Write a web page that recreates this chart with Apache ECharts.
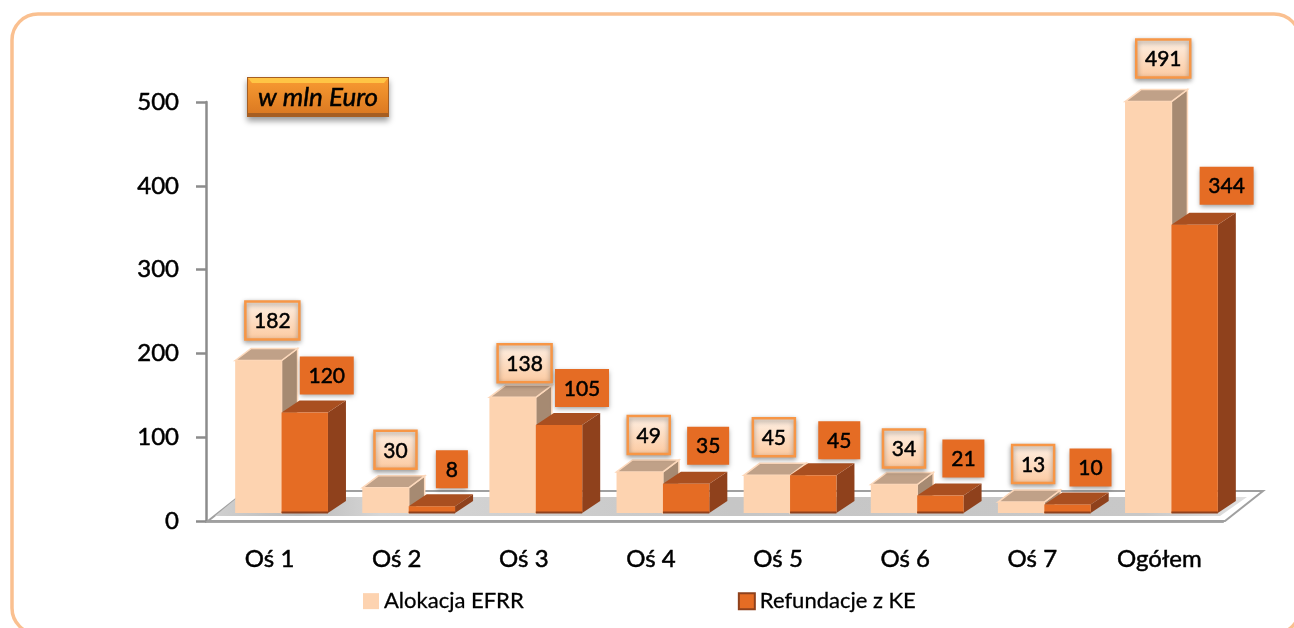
<!DOCTYPE html>
<html>
<head>
<meta charset="utf-8">
<title>Alokacja EFRR</title>
<script src="https://cdn.jsdelivr.net/npm/echarts@6/dist/echarts.min.js"></script>
<style>
  html, body { margin: 0; padding: 0; background: #fff; }
  #chart { width: 1294px; height: 628px; }
</style>
</head>
<body>
<div id="chart"></div>
<script>
// dane
const categories = ['Oś 1', 'Oś 2', 'Oś 3', 'Oś 4', 'Oś 5', 'Oś 6', 'Oś 7', 'Ogółem']
const alokacja = [182, 30, 138, 49, 45, 34, 13, 491]
const refundacje = [120, 8, 105, 35, 45, 21, 10, 344]
const yTicks = { min: 0, max: 500, interval: 100 }

// kolory
const FONT = 'Lato, "Open Sans", sans-serif'
const peach = { front: '#FDD3B0', side: '#A68A72', top: '#C0A188', edge: '#FDD9BC' }
const orange = { front: '#E56C24', side: '#8F411C', top: '#A94F20', edge: null }

// przesunięcie etykiet względem słupka
const peachLabelShift = [14, 10, 12, 9, 7, 10, 12, 15]
const orangeLabelShift = [22, 20, 23, 22, 26, 23, 23, 32]
const peachLabelLift = [40, 38, 34, 37, 38, 36, 38, 43]
const orangeLabelLift = [37, 37, 37, 38, 35, 37, 37, 39]

const chart = echarts.init(document.getElementById('chart'))

// słupek 3D: przód, bok, góra i etykieta nad nim
function renderBox(colors, side, labelShift, labelLift, labelFill) {
  return (params, api) => {
    const i = api.value(0)
    const value = api.value(1)
    const base = api.coord([i, 0])
    const top = api.coord([i, value])
    const band = api.size([1, 0])[0]
    const w = band * 0.365
    const x0 = base[0] + 12 + (side < 0 ? -w : 0)
    const x1 = x0 + w
    const y0 = base[1] - 8
    const y1 = top[1] - 8
    const dx = side < 0 ? 16 : 18
    const dy = 12
    const stroke = colors.edge ? { stroke: colors.edge, lineWidth: 1.5 } : {}
    const digits = String(value).length
    const lw = digits === 3 ? 54 : digits === 2 ? 42 : 32
    const lh = 38
    const lx = (x0 + x1) / 2 + labelShift[i] - lw / 2
    const ly = y1 - labelLift[i] - lh / 2
    const children = [
      { type: 'polygon', shape: { points: [[x1, y0], [x1 + dx, y0 - dy], [x1 + dx, y1 - dy], [x1, y1]] }, style: { fill: colors.side, ...stroke } },
      { type: 'polygon', shape: { points: [[x0, y1], [x0 + dx, y1 - dy], [x1 + dx, y1 - dy], [x1, y1]] }, style: { fill: colors.top, ...stroke } },
      { type: 'rect', shape: { x: x0, y: y1, width: w, height: y0 - y1 }, style: { fill: colors.front } }
    ]
    if (!colors.edge) {
      children.push({ type: 'rect', shape: { x: x0, y: y0 - 1.5, width: w, height: 2 }, style: { fill: colors.side } })
    }
    children.push({
      type: 'rect',
      shape: { x: lx, y: ly, width: lw, height: lh },
      style: {
        fill: labelFill,
        stroke: colors.edge ? '#F79646' : null,
        lineWidth: colors.edge ? 2.5 : 0,
        shadowBlur: 5,
        shadowOffsetY: 2,
        shadowColor: 'rgba(0,0,0,0.4)'
      }
    })
    children.push({
      type: 'text',
      style: {
        x: lx + lw / 2,
        y: ly + lh / 2 + 1,
        text: String(value),
        fill: '#000',
        stroke: '#000',
        lineWidth: 0.5,
        font: '21px ' + FONT,
        align: 'center',
        verticalAlign: 'middle'
      }
    })
    return { type: 'group', children }
  }
}

// podłoga wykresu
function renderFloor(params, api) {
  const a = api.coord([0, 0])
  const band = api.size([1, 0])[0]
  const left = a[0] - band / 2 + 2
  const right = left + band * 8
  const y = a[1]
  return {
    type: 'group',
    children: [
      {
        type: 'polygon',
        shape: { points: [[left, y], [right, y], [right + 38, y - 30], [left + 38, y - 30]] },
        style: { fill: '#fff', stroke: '#A0A0A0', lineWidth: 2 }
      },
      {
        type: 'polygon',
        shape: { points: [[left + 7, y - 5], [right - 5, y - 5], [right + 22, y - 24], [left + 30, y - 24]] },
        style: {
          fill: new echarts.graphic.LinearGradient(0, 0, 1, 0, [
            { offset: 0, color: '#D0D0D0' },
            { offset: 0.08, color: '#BABABA' },
            { offset: 0.16, color: '#D6D6D6' },
            { offset: 0.5, color: '#C6C6C6' },
            { offset: 0.9, color: '#C8C8C8' },
            { offset: 1, color: '#E0E0E0' }
          ])
        }
      }
    ]
  }
}

const peachLabelFill = new echarts.graphic.LinearGradient(0, 0, 0, 1, [
  { offset: 0, color: '#FEF1E6' },
  { offset: 1, color: '#FCC99F' }
])

chart.setOption({
  animation: false,
  backgroundColor: '#fff',
  grid: { left: 206, right: 71, top: 102, bottom: 107 },
  xAxis: {
    type: 'category',
    data: categories,
    axisLine: { lineStyle: { color: '#8C8C8C', width: 2.5 } },
    axisTick: { show: false },
    axisLabel: { color: '#000', fontFamily: FONT, fontSize: 24, textBorderColor: '#000', textBorderWidth: 0.5, margin: 26 }
  },
  yAxis: {
    type: 'value',
    min: yTicks.min,
    max: yTicks.max,
    interval: yTicks.interval,
    splitLine: { show: false },
    axisLine: { show: true, lineStyle: { color: '#8C8C8C', width: 2.5 } },
    axisTick: { show: true, length: 10, lineStyle: { color: '#8C8C8C', width: 2.5 } },
    axisLabel: { color: '#000', fontFamily: FONT, fontSize: 24, textBorderColor: '#000', textBorderWidth: 0.5, margin: 27, padding: [4, 0, 0, 0] }
  },
  legend: {
    left: 358,
    top: 585,
    itemWidth: 16,
    itemHeight: 16,
    itemGap: 214,
    icon: 'rect',
    data: ['Alokacja EFRR', 'Refundacje z KE'],
    textStyle: { color: '#000', fontFamily: FONT, fontSize: 22, textBorderColor: '#000', textBorderWidth: 0.3 }
  },
  series: [
    {
      type: 'custom',
      silent: true,
      z: 1,
      clip: false,
      data: [[0, 0]],
      renderItem: renderFloor
    },
    {
      name: 'Alokacja EFRR',
      type: 'custom',
      z: 2,
      clip: false,
      itemStyle: { color: peach.front },
      data: alokacja.map((v, i) => [i, v]),
      renderItem: renderBox(peach, -1, peachLabelShift, peachLabelLift, peachLabelFill)
    },
    {
      name: 'Refundacje z KE',
      type: 'custom',
      z: 3,
      clip: false,
      itemStyle: { color: orange.front, borderColor: orange.side, borderWidth: 2 },
      data: refundacje.map((v, i) => [i, v]),
      renderItem: renderBox(orange, 1, orangeLabelShift, orangeLabelLift, orange.front)
    }
  ],
  graphic: [
    // ramka wokół wykresu
    {
      type: 'rect',
      z: 0,
      shape: { x: 12, y: 14, width: 1288, height: 620, r: 26 },
      style: { fill: 'none', stroke: '#FAC090', lineWidth: 3.5 }
    },
    // plakietka "w mln Euro"
    {
      type: 'group',
      z: 10,
      left: 247,
      top: 77,
      children: [
        {
          type: 'rect',
          shape: { x: 0, y: 0, width: 142, height: 40 },
          style: { fill: '#A65E22', shadowBlur: 6, shadowOffsetY: 4, shadowColor: 'rgba(0,0,0,0.4)' }
        },
        {
          type: 'rect',
          shape: { x: 1, y: 1, width: 140, height: 35 },
          style: {
            fill: new echarts.graphic.LinearGradient(0, 0, 0, 1, [
              { offset: 0, color: '#F99C32' },
              { offset: 1, color: '#DC7A22' }
            ])
          }
        },
        {
          type: 'polygon',
          shape: { points: [[1, 1], [141, 1], [137, 6], [5, 6]] },
          style: { fill: '#FFC545' }
        },
        {
          type: 'text',
          style: {
            x: 71,
            y: 21,
            text: 'w mln Euro',
            fill: '#000',
            stroke: '#000',
            lineWidth: 0.5,
            font: 'italic 26px ' + FONT,
            align: 'center',
            verticalAlign: 'middle'
          }
        }
      ]
    }
  ]
})
</script>
</body>
</html>
